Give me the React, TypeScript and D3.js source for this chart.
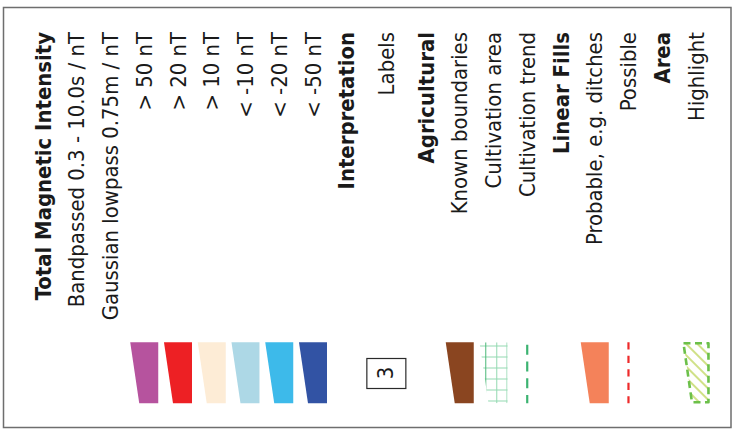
import React from "react";
import * as d3 from "d3";

const rowLabels = [
  "Total Magnetic Intensity",
  "Bandpassed 0.3 - 10.0s / nT",
  "Gaussian lowpass 0.75m / nT",
  "> 50 nT",
  "> 20 nT",
  "> 10 nT",
  "< -10 nT",
  "< -20 nT",
  "< -50 nT",
  "Interpretation",
  "Labels",
  "Agricultural",
  "Known boundaries",
  "Cultivation area",
  "Cultivation trend",
  "Linear Fills",
  "Probable, e.g. ditches",
  "Possible",
  "Area",
  "Highlight",
];
const rowBold = [true, false, false, false, false, false, false, false, false, true, false, true, false, false, false, true, false, false, true, false];
const rowSymbols = ["none", "none", "none", "fill", "fill", "fill", "fill", "fill", "fill", "none", "label", "none", "fill", "grid", "trend", "none", "fill", "possible", "none", "hatch"];
const rowColors = ["", "", "", "#b6539e", "#ed2024", "#fdecd6", "#add8e6", "#3dbaea", "#3253a4", "", "#222222", "", "#8a4520", "#3cb371", "#3cb371", "", "#f4825a", "#ee2a2a", "", "#6cc04a"];
const labelText = "3";

const W = 732;
const H = 445;
const FONT = "'DejaVu Sans Condensed', 'DejaVu Sans', Verdana, sans-serif";
const FS = 21.9;
const rowH = 33.75;
const labelRowH = 45.5;
const startX = 26.1;
const textEndY = 32;
const symTop = 342.3;
const symBot = 403.3;

export default function App() {
  const heights = rowLabels.map((_, i) => (rowSymbols[i] === "label" ? labelRowH : rowH));
  const cum = d3.cumsum(heights);
  const centers = heights.map((h, i) => startX + cum[i] - h + h / 2);
  const yScale = d3.scaleLinear().domain([0, 1]).range([symTop, symBot]);

  const trap = (c: number) => {
    const p = d3.path();
    p.moveTo(c - 14, yScale(0));
    p.lineTo(c + 14, yScale(0));
    p.lineTo(c + 14, yScale(1));
    p.lineTo(c - 5, yScale(1));
    p.closePath();
    return p.toString();
  };

  return (
    <svg width={W} height={H} style={{ position: "absolute", left: 0, top: 0, background: "#fff" }}>
      <defs>
        <pattern id="hatch" patternUnits="userSpaceOnUse" width="8" height="8" patternTransform="rotate(-45)">
          <line x1="2" y1="0" x2="2" y2="8" stroke="#bcd454" strokeWidth="1.4" />
        </pattern>
        {rowLabels.map((_, i) =>
          rowSymbols[i] === "grid" ? (
            <clipPath id={`clip${i}`} key={i}>
              <path d={trap(centers[i])} />
            </clipPath>
          ) : null
        )}
      </defs>
      <rect x={3.5} y={7.5} width={727.5} height={420} fill="#fff" stroke="#6e6e6e" strokeWidth={1.5} />
      {rowLabels.map((lab, i) => {
        const c = centers[i];
        const baseline = c + 7.6;
        return (
          <text
            key={"t" + i}
            transform={`translate(${baseline},${textEndY}) rotate(-90)`}
            textAnchor="end"
            fontFamily={FONT}
            fontSize={FS}
            fontWeight={rowBold[i] ? "bold" : "normal"}
            style={{ fontStretch: "condensed" }}
            fill="#1a1a1a"
          >
            {lab}
          </text>
        );
      })}
      {rowLabels.map((_, i) => {
        const c = centers[i];
        const kind = rowSymbols[i];
        const col = rowColors[i];
        if (kind === "fill") {
          return <path key={"s" + i} d={trap(c)} fill={col} />;
        }
        if (kind === "label") {
          return (
            <g key={"s" + i}>
              <rect x={c - 19.5} y={358.5} width={39} height={30} fill="#fff" stroke="#2a2a2a" strokeWidth={1.2} />
              <text
                transform={`translate(${c + 7},${373}) rotate(-90)`}
                textAnchor="middle"
                fontFamily={FONT}
                fontSize={FS}
                style={{ fontStretch: "condensed" }}
                fill="#1a1a1a"
              >
                {labelText}
              </text>
            </g>
          );
        }
        if (kind === "grid") {
          const vx = d3.range(-3, 0).map((k) => c + 14 + k * 11 + 0.3);
          const hy = d3.range(0, 6).map((k) => symTop + 3.7 + k * 11);
          return (
            <g key={"s" + i} clipPath={`url(#clip${i})`}>
              {hy.map((y, k) => (
                <line key={"h" + k} x1={c - 15} x2={c + 15} y1={y} y2={y} stroke="#93d9b1" strokeWidth={1} />
              ))}
              {vx.map((x, k) => (
                <line key={"v" + k} x1={x} x2={x} y1={symTop} y2={symBot} stroke={k === 2 ? "#93d9b1" : "#4cb878"} strokeWidth={1} />
              ))}
              <line x1={c + 13.5} x2={c + 13.5} y1={symTop} y2={symBot} stroke="#93d9b1" strokeWidth={1} />
            </g>
          );
        }
        if (kind === "trend") {
          return (
            <line key={"s" + i} x1={c} x2={c} y1={yScale(0) + 2.5} y2={yScale(1)} stroke={col} strokeWidth={2.2} strokeDasharray="10 6.7" />
          );
        }
        if (kind === "possible") {
          return (
            <line key={"s" + i} x1={c} x2={c} y1={yScale(0)} y2={yScale(1)} stroke={col} strokeWidth={2.2} strokeDasharray="7.2 6.3" />
          );
        }
        if (kind === "hatch") {
          const p = d3.path();
          p.moveTo(c - 12.5, yScale(0) + 1);
          p.lineTo(c + 12.5, yScale(0) + 1);
          p.lineTo(c + 12.5, yScale(1) - 1);
          p.lineTo(c - 4, yScale(1) - 1);
          p.closePath();
          return (
            <g key={"s" + i}>
              <path d={p.toString()} fill="url(#hatch)" />
              <path d={p.toString()} fill="none" stroke={col} strokeWidth={2.6} strokeDasharray="7 4.5" strokeLinejoin="round" />
            </g>
          );
        }
        return null;
      })}
    </svg>
  );
}
